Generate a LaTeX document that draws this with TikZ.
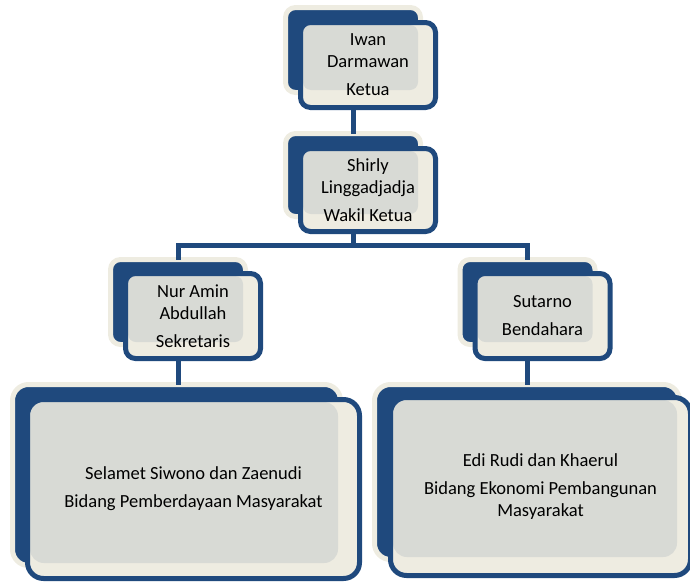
\documentclass[tikz,border=0pt]{standalone}
\usepackage{fontspec}
\setmainfont{Carlito}
\usetikzlibrary{positioning,calc,backgrounds}
\definecolor{navy}{RGB}{31,73,125}
\definecolor{cream}{RGB}{238,236,225}
\definecolor{panel}{RGB}{216,218,213}

\begin{document}
\begin{tikzpicture}[x=1pt, y=-1pt,
	front/.style={draw=navy, line width=5pt, rounded corners=10pt, inner sep=0pt, outer sep=0pt, align=center, font=\fontsize{18.5}{22}\selectfont},
	back/.style={inner sep=0pt, outer sep=0pt},
	conn/.style={draw=navy, line width=5pt}]
	\useasboundingbox (0,0) rectangle (690,581);

	% Front boxes with the names
	\node[front, minimum width=135pt, minimum height=85pt] (ketua) at (368,65) {Iwan\\Darmawan\\[6pt]Ketua};
	\node[front, minimum width=135pt, minimum height=83pt] (wakil) at (368,190) {Shirly\\Linggadjadja\\[6pt]Wakil Ketua};
	\node[front, minimum width=135pt, minimum height=85pt] (sekre) at (193,316) {Nur Amin\\Abdullah\\[6pt]Sekretaris};
	\node[front, minimum width=135pt, minimum height=85pt] (bendahara) at (542.5,316) {Sutarno\\[6pt]Bendahara};
	\node[front, rounded corners=16pt, minimum width=332pt, minimum height=179pt] (bidang1) at (193.5,489) {Selamet Siwono dan Zaenudi\\[6pt]Bidang Pemberdayaan Masyarakat};
	\node[front, rounded corners=16pt, minimum width=300pt, minimum height=178pt] (bidang2) at (540.5,486.5) {Edi Rudi dan Khaerul\\[6pt]Bidang Ekonomi Pembangunan\\Masyarakat};

	% Shadow boxes behind (places only)
	\node[back, minimum width=135pt, minimum height=85pt] (ketuaBack) at (353,50) {};
	\node[back, minimum width=135pt, minimum height=83pt] (wakilBack) at (353,175) {};
	\node[back, minimum width=135pt, minimum height=85pt] (sekreBack) at (178,302) {};
	\node[back, minimum width=135pt, minimum height=85pt] (bendaharaBack) at (527.5,302) {};
	\node[back, minimum width=328pt, minimum height=181pt] (bidang1Back) at (176.5,475) {};
	\node[back, minimum width=305pt, minimum height=175pt] (bidang2Back) at (527,472) {};

	\begin{scope}[on background layer]
		% Navy shadow, cream face and grey panel of each box
		\foreach \n/\r in {ketua/10, wakil/10, sekre/10, bendahara/10, bidang1/16, bidang2/16} {
			\filldraw[fill=navy, draw=cream, line width=5pt, rounded corners=\r pt] (\n Back.south west) rectangle (\n Back.north east);
			\fill[cream, rounded corners=\r pt] (\n.south west) rectangle (\n.north east);
			\fill[panel, rounded corners=\r pt-2pt] ($(\n.north west)+(2.5,2.5)$) rectangle ($(\n Back.south east)+(-2.5,-2.5)$);
		}
	\end{scope}

	% Connectors
	\draw[conn] (ketuaBack.south |- ketua.south) -- (wakilBack.north);
	\draw[conn] (wakilBack.south |- wakil.south) -- ++(0,14) coordinate (bus);
	\draw[conn] (sekreBack.north) |- (bus) -| (bendaharaBack.north);
	\draw[conn] (sekreBack.south |- sekre.south) -- (sekreBack.south |- bidang1Back.north);
	\draw[conn] (bendaharaBack.south |- bendahara.south) -- (bendaharaBack.south |- bidang2Back.north);
\end{tikzpicture}
\end{document}
